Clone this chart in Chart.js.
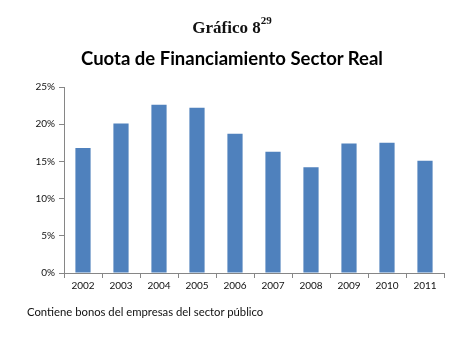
<!DOCTYPE html>
<html>
<head>
<meta charset="utf-8">
<script src="https://cdn.jsdelivr.net/npm/chart.js@4"></script>
<style>
  html, body { margin: 0; padding: 0; background: #fff; }
  #wrap { position: relative; width: 464px; height: 345px; overflow: hidden; }
  #chart { position: absolute; left: 0; top: 0; }
  .t1 { position: absolute; left: 0; width: 464px; top: 16px; text-align: center;
        font: bold 17px "Liberation Serif", serif; color: #111; }
  .t1 sup { font-size: 11px; position: relative; top: -2px; }
  .t2 { position: absolute; left: 0; width: 464px; top: 47px; text-align: center;
        font: bold 18.5px Lato, sans-serif; color: #000; }
  .note { position: absolute; left: 27px; top: 305px;
          font: 11.3px Lato, sans-serif; color: #111; }
</style>
</head>
<body>
<div id="wrap">
  <canvas id="chart" width="464" height="345"></canvas>
  <div class="t1">Gráfico 8<sup>29</sup></div>
  <div class="t2">Cuota de Financiamiento Sector Real</div>
  <div class="note">Contiene bonos del empresas del sector público</div>
</div>
<script>
// datos
const anios = ['2002','2003','2004','2005','2006','2007','2008','2009','2010','2011'];
const cuota = [16.8, 20.1, 22.6, 22.2, 18.7, 16.3, 14.2, 17.4, 17.5, 15.1];

const ejeColor = '#868686';
const fuente = { family: 'Lato, sans-serif', size: 10 };

new Chart(document.getElementById('chart'), {
  type: 'bar',
  data: {
    labels: anios,
    datasets: [{ data: cuota, backgroundColor: '#4F81BD', borderWidth: 0,
                 barPercentage: 0.4, categoryPercentage: 1 }]
  },
  options: {
    responsive: false,
    animation: false,
    layout: { padding: { left: 0, top: 87, right: 20, bottom: 52 } },
    plugins: { legend: { display: false }, tooltip: { enabled: false } },
    scales: {
      x: {
        afterFit: s => { s.height = 20; },
        grid: { offset: true, drawOnChartArea: false, tickLength: 5, color: ejeColor },
        border: { color: ejeColor },
        ticks: { color: '#111', font: fuente, padding: 2, maxRotation: 0 }
      },
      y: {
        min: 0, max: 25,
        afterFit: s => { s.width = 64; },
        grid: { drawOnChartArea: false, tickLength: 5, color: ejeColor },
        border: { color: ejeColor },
        ticks: { stepSize: 5, color: '#111', font: fuente, padding: 4,
                 callback: v => v + '%' }
      }
    }
  }
});
</script>
</body>
</html>
